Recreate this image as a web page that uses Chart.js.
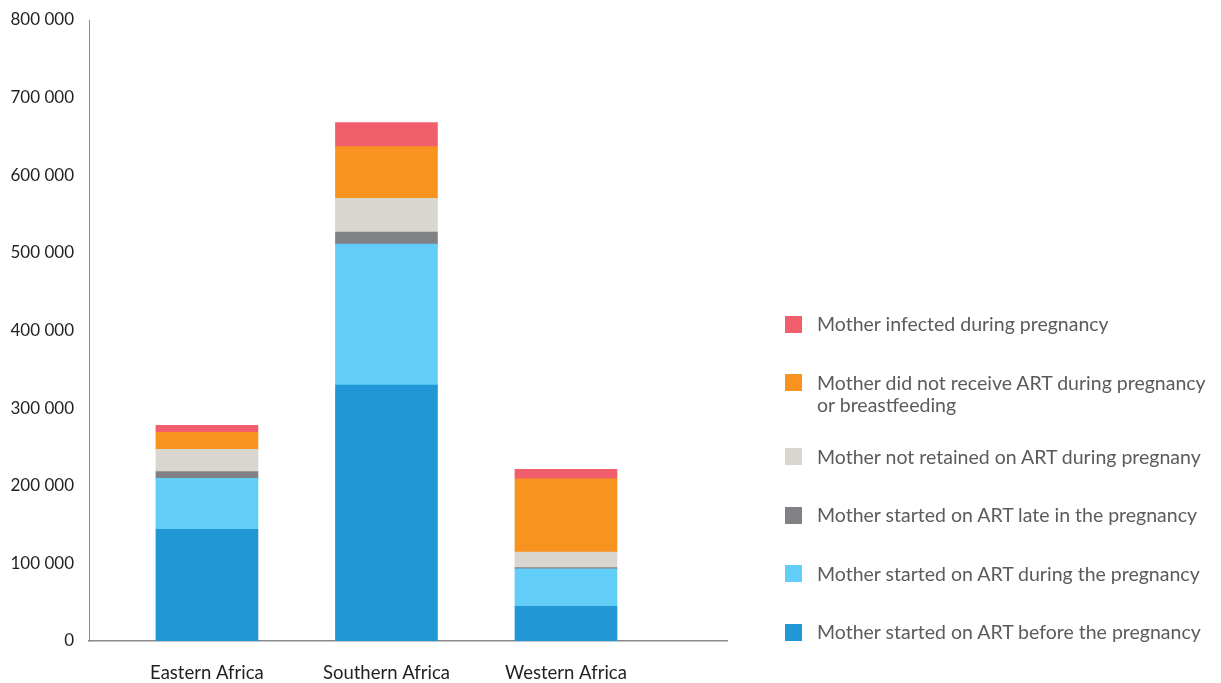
<!DOCTYPE html>
<html>
<head>
<meta charset="utf-8">
<script src="https://cdn.jsdelivr.net/npm/chart.js@4"></script>
<style>
  body { margin: 0; background: #fff; }
  #wrap { position: relative; width: 1221px; height: 683px; }
  #legend { position: absolute; left: 785px; top: 313px; font-family: Lato, sans-serif; font-size: 19.5px; color: #5b5b5d; }
  .item { display: flex; align-items: flex-start; margin-bottom: 36.6px; line-height: 22px; }
  .box { width: 17px; height: 17px; margin-top: 2.5px; margin-right: 15px; flex: none; }
  .txt { white-space: pre-line; }
</style>
</head>
<body>
<div id="wrap">
  <canvas id="myChart" width="1221" height="683"></canvas>
  <div id="legend"></div>
</div>
<script>
const categories = ['Eastern Africa', 'Southern Africa', 'Western Africa']

const beforePregnancy = [143700, 329600, 44800]
const duringPregnancy = [65700, 181700, 48200]
const lateInPregnancy = [9000, 15500, 1700]
const notRetained = [28400, 43400, 19700]
const noArt = [21900, 66700, 94600]
const infectedDuring = [9000, 30900, 12000]

const seriesNames = [
    'Mother started on ART before the pregnancy',
    'Mother started on ART during the pregnancy',
    'Mother started on ART late in the pregnancy',
    'Mother not retained on ART during pregnany',
    'Mother did not receive ART during pregnancy\nor breastfeeding',
    'Mother infected during pregnancy'
]
const seriesValues = [beforePregnancy, duringPregnancy, lateInPregnancy, notRetained, noArt, infectedDuring]
const colors = ['#2197d5', '#62cdf6', '#808184', '#d9d6d0', '#f7931e', '#f15f6c']

const yTicks = [0, 100000, 200000, 300000, 400000, 500000, 600000, 700000, 800000]

const datasets = seriesValues.map((values, i) => ({
    label: seriesNames[i],
    backgroundColor: colors[i],
    borderWidth: 0,
    barThickness: 102,
    data: values.map((v, j) => ({ x: j, y: v }))
}))

const config = {
    type: 'bar',
    data: { datasets: datasets },
    options: {
        responsive: false,
        animation: false,
        layout: { padding: { top: 20, right: 494, left: 0, bottom: 0 } },
        plugins: {
            legend: { display: false },
            tooltip: { enabled: false }
        },
        scales: {
            x: {
                type: 'linear',
                stacked: true,
                offset: false,
                min: -0.657,
                max: 2.897,
                grid: { display: false, drawTicks: false, offset: false },
                border: { display: true, color: '#8a8a8a', width: 1.5 },
                afterBuildTicks: (scale) => { scale.ticks = categories.map((c, i) => ({ value: i })) },
                afterFit: (scale) => { scale.height = 42; scale.paddingLeft = 0; scale.paddingRight = 0 },
                ticks: {
                    color: '#231f20',
                    font: { family: 'Lato, sans-serif', size: 18.5 },
                    padding: 21,
                    maxRotation: 0,
                    autoSkip: false,
                    callback: (value) => categories[value]
                }
            },
            y: {
                stacked: true,
                min: 0,
                max: 800000,
                grid: { display: false, drawTicks: false },
                border: { display: true, color: '#8a8a8a', width: 1 },
                afterBuildTicks: (scale) => { scale.ticks = yTicks.map(v => ({ value: v })) },
                afterFit: (scale) => { scale.width = 89; scale.paddingTop = 0; scale.paddingBottom = 0 },
                ticks: {
                    color: '#231f20',
                    font: { family: 'Lato, sans-serif', size: 17 },
                    padding: 15,
                    callback: (value) => value.toLocaleString('en-US').replace(/,/g, ' ')
                }
            }
        }
    }
}

const myChart = new Chart(document.getElementById('myChart'), config)

const legend = document.getElementById('legend')
datasets.slice().reverse().forEach(ds => {
    const extra = ds.label.includes('\n') ? 'margin-bottom:30px' : ''
    legend.innerHTML += `<div class="item" style="${extra}"><div class="box" style="background:${ds.backgroundColor}"></div><div class="txt">${ds.label}</div></div>`
})
</script>
</body>
</html>
